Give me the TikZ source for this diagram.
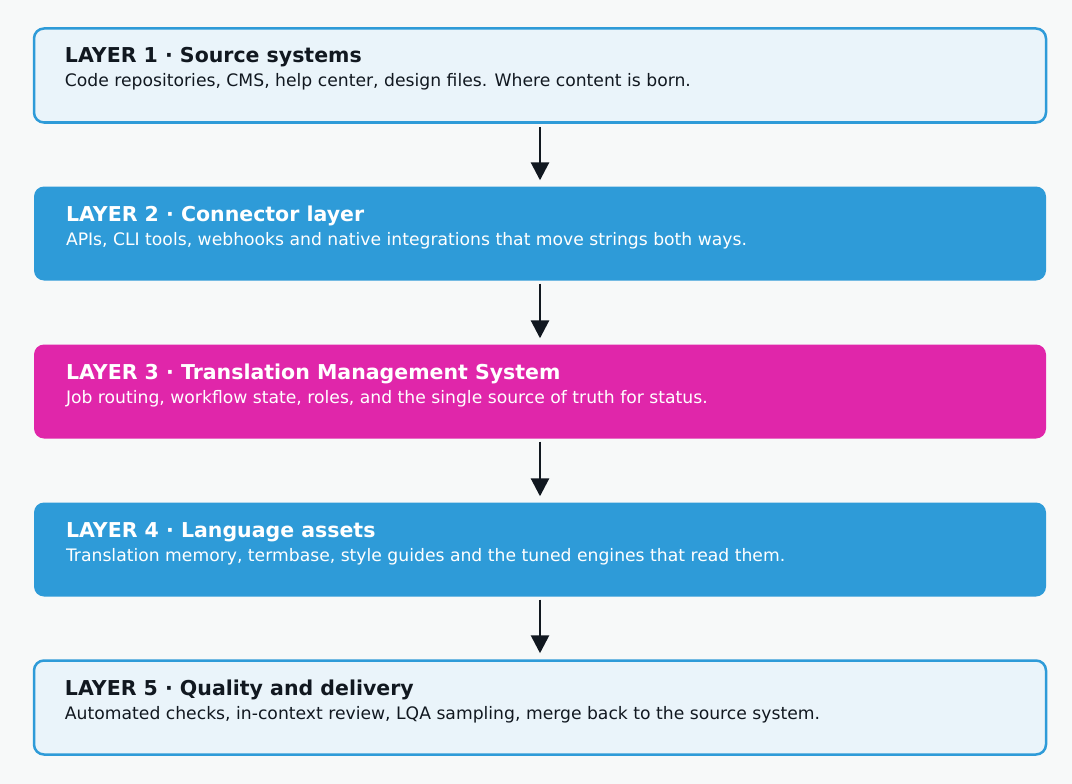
\documentclass[tikz,border=0pt]{standalone}
\usepackage{fontspec}
\setmainfont{DejaVu Sans}
\usetikzlibrary{arrows.meta}
\definecolor{bg}{HTML}{F7F9F9}
\definecolor{lightf}{HTML}{EAF4FA}
\definecolor{blu}{HTML}{2E9BD8}
\definecolor{mag}{HTML}{E026AA}
\definecolor{ink}{HTML}{111820}
\begin{document}
\begin{tikzpicture}[x=1pt,y=-1pt,
  layer/.style={rounded corners=10pt,minimum width=1012pt,minimum height=94pt,inner sep=0pt},
  lightbox/.style={layer,fill=lightf,draw=blu,line width=2.5pt},
  bluebox/.style={layer,fill=blu},
  magbox/.style={layer,fill=mag},
  ttl/.style={anchor=base west,font=\bfseries\fontsize{20.5}{24}\selectfont,inner sep=0pt},
  sub/.style={anchor=base west,font=\fontsize{17.2}{20}\selectfont,inner sep=0pt},
  arr/.style={draw=ink,line width=2.8pt,-{Triangle[length=18pt,width=18pt]}}]
\fill[bg] (0,0) rectangle (1072,784);
\node[lightbox] (l1) at (540,75.5) {};
\node[bluebox] (l2) at (540,233.5) {};
\node[magbox] (l3) at (540,391.5) {};
\node[bluebox] (l4) at (540,549.5) {};
\node[lightbox] (l5) at (540,707.5) {};
\foreach \n/\t/\s/\c [count=\i] in {
 l1/{LAYER 1 · Source systems}/{Code repositories, CMS, help center, design files. Where content is born.}/ink,
 l2/{LAYER 2 · Connector layer}/{APIs, CLI tools, webhooks and native integrations that move strings both ways.}/white,
 l3/{LAYER 3 · Translation Management System}/{Job routing, workflow state, roles, and the single source of truth for status.}/white,
 l4/{LAYER 4 · Language assets}/{Translation memory, termbase, style guides and the tuned engines that read them.}/white,
 l5/{LAYER 5 · Quality and delivery}/{Automated checks, in-context review, LQA sampling, merge back to the source system.}/ink}{
  \node[ttl,text=\c] (t\i) at ([xshift=32pt,yshift=12.5pt]\n.west) {\t};
  \node[sub,text=\c] (s\i) at ([xshift=32pt,yshift=-11.5pt]\n.west) {\s};
}
\draw[arr] ([yshift=-3pt]l1.south) -- ([yshift=6pt]l2.north);
\draw[arr] ([yshift=-3pt]l2.south) -- ([yshift=6pt]l3.north);
\draw[arr] ([yshift=-3pt]l3.south) -- ([yshift=6pt]l4.north);
\draw[arr] ([yshift=-3pt]l4.south) -- ([yshift=6pt]l5.north);
\end{tikzpicture}
\end{document}
